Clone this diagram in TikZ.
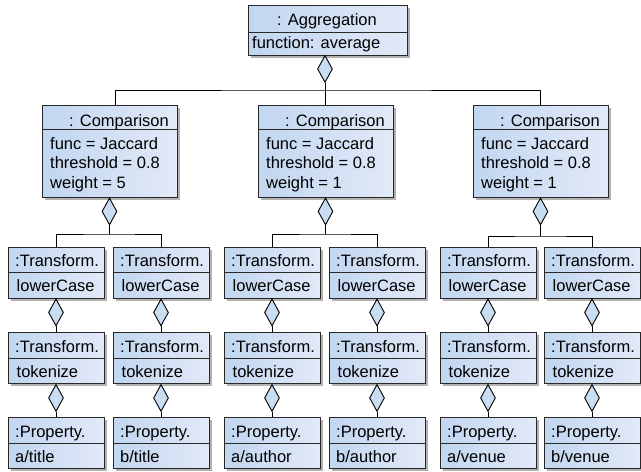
\documentclass[tikz,border=0pt]{standalone}
\usepackage{fontspec}
\setmainfont{Liberation Sans}
\usetikzlibrary{shapes.geometric,shadows}
\definecolor{boxL}{RGB}{193,214,240}
\definecolor{boxR}{RGB}{226,233,248}
\definecolor{dia}{RGB}{200,220,242}
\definecolor{edgec}{RGB}{40,40,40}
\tikzset{
 objbox/.style={draw=edgec, line width=1pt, left color=boxL, right color=boxR, inner sep=0pt, rectangle,
   drop shadow={shadow xshift=2.5pt, shadow yshift=-2.5pt, fill=black, opacity=0.3}},
 lbl/.style={inner sep=0pt, font=\fontsize{16.5}{19}\selectfont},
 aggdia/.style={draw=black, line width=0.9pt, fill=dia, shape=diamond, minimum width=15pt, minimum height=27pt, inner sep=0pt},
 conn/.style={line width=0.9pt, draw=black},
 divline/.style={draw=edgec, line width=1pt},
}
\newcommand\mkcomp[3]{%
 \node[objbox, minimum width=135pt, minimum height=92pt] (c#1) at (#2+67.5,151) {};
 \draw[divline] (c#1.west |- 0,129) -- (c#1.east |- 0,129);
 \node[lbl, anchor=base west] (c#1h) at (#2+27,126) {: Comparison};
 \node[lbl, anchor=base west] (c#1a) at (#2+8,149) {func = Jaccard};
 \node[lbl, anchor=base west] (c#1b) at (#2+8,168.5) {threshold = 0.8};
 \node[lbl, anchor=base west] (c#1c) at (#2+8,188) {weight = #3};
 \node[aggdia, anchor=north] (dc#1) at (c#1.south) {};
}
\newcommand\mkcol[3]{%
 \node[objbox, minimum width=96pt, minimum height=51pt] (t#1) at (#2+48,272.5) {};
 \draw[divline] (t#1.west |- 0,272) -- (t#1.east |- 0,272);
 \node[lbl, anchor=base west] (t#1h) at (#2+7,266) {:Transform.};
 \node[lbl, anchor=base west] (t#1b) at (#2+8.5,291) {lowerCase};
 \node[aggdia, anchor=north] (dt#1) at (t#1.south) {};
 \node[objbox, minimum width=96pt, minimum height=51pt] (k#1) at (#2+48,358) {};
 \draw[divline] (k#1.west |- 0,358) -- (k#1.east |- 0,358);
 \node[lbl, anchor=base west] (k#1h) at (#2+7,352) {:Transform.};
 \node[lbl, anchor=base west] (k#1b) at (#2+8.5,377) {tokenize};
 \node[aggdia, anchor=north] (dk#1) at (k#1.south) {};
 \node[objbox, minimum width=96pt, minimum height=51pt] (p#1) at (#2+48,443) {};
 \draw[divline] (p#1.west |- 0,443) -- (p#1.east |- 0,443);
 \node[lbl, anchor=base west] (p#1h) at (#2+7,437) {:Property.};
 \node[lbl, anchor=base west] (p#1b) at (#2+7,462) {#3};
 \draw[conn] (dt#1.south) -- (k#1.north);
 \draw[conn] (dk#1.south) -- (p#1.north);
}
\begin{document}
\begin{tikzpicture}[x=1pt,y=-1pt]
\useasboundingbox (0,0) rectangle (641,472);
% aggregation
\node[objbox, minimum width=159pt, minimum height=50pt] (agg) at (327.5,30) {};
\draw[divline] (agg.west |- 0,32) -- (agg.east |- 0,32);
\node[lbl, anchor=base] (aggT) at (327,25) {: Aggregation};
\node[lbl, anchor=base west] (aggF) at (252,48) {function: average};
\node[aggdia, anchor=north] (dA) at (325,55) {};
% comparisons
\mkcomp{1}{42}{5}
\mkcomp{2}{258}{1}
\mkcomp{3}{473}{1}
\coordinate (jA) at (325,90);
\draw[conn] (dA.south) -- (dA.south |- c2.north);
\draw[conn] ([xshift=5.5pt]c1.north) |- (jA) -| (c3.north);
% columns
\mkcol{1}{8}{a/title}
\mkcol{2}{113}{b/title}
\mkcol{3}{224}{a/author}
\mkcol{4}{329}{b/author}
\mkcol{5}{440}{a/venue}
\mkcol{6}{544}{b/venue}
% comparison-to-transform bars
\coordinate (jc1) at (dc1.south |- 0,234);
\coordinate (jc2) at (dc2.south |- 0,234);
\coordinate (jc3) at (dc3.south |- 0,236);
\draw[conn] (dc1.south) -- (jc1);
\draw[conn] (dc2.south) -- (jc2);
\draw[conn] (dc3.south) -- (jc3);
\draw[conn] (t1.north) |- (jc1) -| (t2.north);
\draw[conn] (t3.north) |- (jc2) -| (t4.north);
\draw[conn] (t5.north) |- (jc3) -| (t6.north);
\end{tikzpicture}
\end{document}
